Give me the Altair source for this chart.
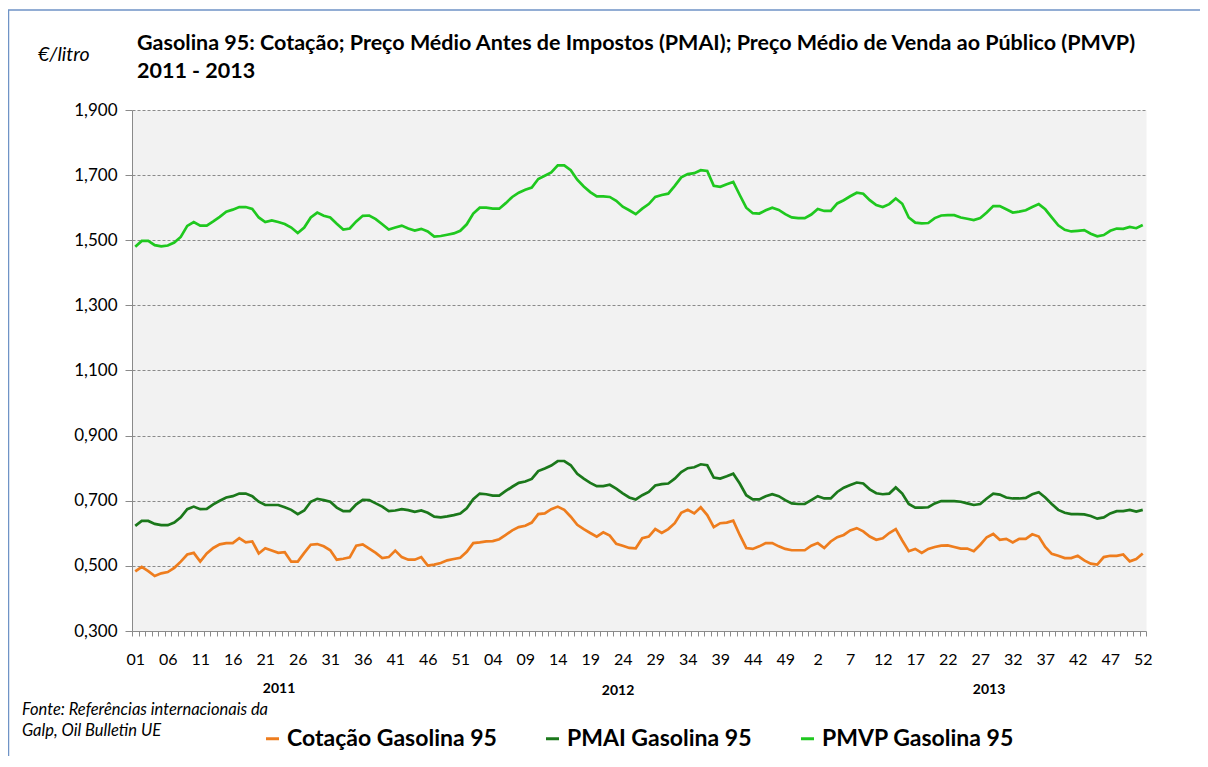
import altair as alt
import pandas as pd

# ---------------- data ----------------
week_labels = ["01", "06", "11", "16", "21", "26", "31", "36", "41", "46", "51",
               "04", "09", "14", "19", "24", "29", "34", "39", "44", "49",
               "2", "7", "12", "17", "22", "27", "32", "37", "42", "47", "52"]
year_labels = ["2011", "2012", "2013"]

cotacao = [
    0.483, 0.497, 0.484, 0.469, 0.477, 0.481, 0.494, 0.513, 0.535, 0.540,
    0.513, 0.538, 0.555, 0.566, 0.570, 0.570, 0.585, 0.572, 0.575, 0.538,
    0.554, 0.547, 0.540, 0.542, 0.513, 0.513, 0.540, 0.565, 0.567, 0.560,
    0.548, 0.519, 0.522, 0.526, 0.562, 0.566, 0.553, 0.540, 0.524, 0.527,
    0.547, 0.527, 0.519, 0.519, 0.527, 0.501, 0.504, 0.509, 0.517, 0.521,
    0.525, 0.543, 0.570, 0.572, 0.575, 0.576, 0.582, 0.595, 0.609, 0.619,
    0.623, 0.633, 0.659, 0.661, 0.674, 0.682, 0.672, 0.651, 0.626, 0.613,
    0.601, 0.590, 0.603, 0.593, 0.568, 0.562, 0.555, 0.554, 0.585, 0.590,
    0.613, 0.601, 0.613, 0.631, 0.663, 0.672, 0.661, 0.680, 0.656, 0.619,
    0.631, 0.633, 0.639, 0.595, 0.555, 0.552, 0.560, 0.570, 0.570, 0.560,
    0.552, 0.548, 0.548, 0.548, 0.562, 0.570, 0.555, 0.575, 0.588, 0.595,
    0.609, 0.616, 0.606, 0.590, 0.580, 0.585, 0.601, 0.613, 0.578, 0.545,
    0.552, 0.540, 0.552, 0.558, 0.562, 0.563, 0.558, 0.553, 0.553, 0.545,
    0.565, 0.588, 0.598, 0.580, 0.583, 0.572, 0.583, 0.583, 0.597, 0.590,
    0.558, 0.537, 0.531, 0.524, 0.524, 0.531, 0.517, 0.507, 0.504, 0.527,
    0.531, 0.531, 0.535, 0.514, 0.521, 0.538,
]

pmai = [
    0.623, 0.638, 0.638, 0.629, 0.625, 0.625, 0.633, 0.649, 0.674, 0.682,
    0.674, 0.675, 0.689, 0.700, 0.710, 0.714, 0.722, 0.722, 0.714, 0.697,
    0.687, 0.687, 0.687, 0.680, 0.672, 0.659, 0.670, 0.697, 0.706, 0.702,
    0.697, 0.679, 0.668, 0.668, 0.689, 0.703, 0.702, 0.692, 0.682, 0.668,
    0.670, 0.674, 0.671, 0.666, 0.670, 0.663, 0.651, 0.649, 0.652, 0.656,
    0.661, 0.677, 0.705, 0.722, 0.720, 0.716, 0.716, 0.730, 0.743, 0.755,
    0.759, 0.767, 0.791, 0.799, 0.808, 0.822, 0.822, 0.809, 0.783, 0.768,
    0.755, 0.745, 0.745, 0.749, 0.737, 0.723, 0.710, 0.704, 0.717, 0.727,
    0.747, 0.751, 0.753, 0.768, 0.788, 0.800, 0.803, 0.812, 0.809, 0.771,
    0.768, 0.775, 0.783, 0.753, 0.717, 0.704, 0.704, 0.714, 0.720, 0.714,
    0.702, 0.692, 0.690, 0.690, 0.702, 0.714, 0.707, 0.707, 0.727, 0.740,
    0.748, 0.756, 0.753, 0.735, 0.723, 0.720, 0.722, 0.741, 0.722, 0.690,
    0.679, 0.679, 0.680, 0.692, 0.699, 0.699, 0.699, 0.697, 0.692, 0.687,
    0.690, 0.707, 0.722, 0.719, 0.710, 0.707, 0.707, 0.709, 0.720, 0.726,
    0.710, 0.690, 0.672, 0.663, 0.659, 0.659, 0.658, 0.653, 0.645, 0.649,
    0.661, 0.668, 0.668, 0.672, 0.667, 0.672,
]

pmvp = [
    1.480, 1.498, 1.498, 1.485, 1.481, 1.484, 1.493, 1.510, 1.544, 1.556,
    1.545, 1.545, 1.558, 1.572, 1.588, 1.594, 1.602, 1.602, 1.596, 1.570,
    1.556, 1.561, 1.556, 1.550, 1.539, 1.522, 1.539, 1.570, 1.585, 1.575,
    1.570, 1.551, 1.533, 1.536, 1.558, 1.575, 1.576, 1.565, 1.549, 1.533,
    1.539, 1.545, 1.536, 1.530, 1.535, 1.527, 1.511, 1.513, 1.517, 1.521,
    1.529, 1.549, 1.582, 1.600, 1.600, 1.597, 1.597, 1.614, 1.633, 1.646,
    1.655, 1.662, 1.688, 1.698, 1.708, 1.730, 1.730, 1.715, 1.686, 1.665,
    1.648, 1.635, 1.635, 1.633, 1.621, 1.603, 1.592, 1.580, 1.597, 1.611,
    1.633, 1.639, 1.643, 1.667, 1.693, 1.703, 1.706, 1.715, 1.713, 1.667,
    1.664, 1.672, 1.679, 1.639, 1.600, 1.583, 1.582, 1.592, 1.600, 1.593,
    1.580, 1.570, 1.568, 1.568, 1.579, 1.596, 1.590, 1.590, 1.613, 1.623,
    1.635, 1.646, 1.643, 1.623, 1.608, 1.602, 1.611, 1.628, 1.612, 1.570,
    1.554, 1.552, 1.553, 1.568, 1.576, 1.577, 1.577, 1.570, 1.566, 1.562,
    1.568, 1.585, 1.605, 1.605, 1.595, 1.585, 1.588, 1.592, 1.602, 1.611,
    1.595, 1.570, 1.546, 1.532, 1.527, 1.529, 1.531, 1.520, 1.512, 1.516,
    1.529, 1.536, 1.535, 1.541, 1.537, 1.547,
]

series_names = ["Cotação Gasolina 95", "PMAI Gasolina 95", "PMVP Gasolina 95"]
series_colors = ["#EE7D1E", "#1B781B", "#1FC81F"]
y_ticks = [0.3, 0.5, 0.7, 0.9, 1.1, 1.3, 1.5, 1.7, 1.9]

# ---------------- table ----------------
n = len(pmvp)
rows = []
for name, vals in zip(series_names, [cotacao, pmai, pmvp]):
    for i, v in enumerate(vals):
        rows.append({"idx": i, "serie": name, "valor": v})
df = pd.DataFrame(rows)
one = pd.DataFrame([{"k": 1}])

W, H = 1014, 521
FONT = "Lato"
GRID = "#8a8a8a"

xscale = alt.Scale(domain=[-0.5, n - 0.5], nice=False, zero=False)
yscale = alt.Scale(domain=[0.3, 1.9], nice=False, zero=False)

label_js = "[" + ",".join("'%s'" % l for l in week_labels) + "][round(datum.value / 5)]"

lines = alt.Chart(df).mark_line(strokeWidth=2.7).encode(
    x=alt.X("idx:Q", scale=xscale,
            axis=alt.Axis(orient="bottom", values=list(range(0, n, 5)), labelExpr=label_js,
                          ticks=False, grid=False, domain=True, domainColor=GRID,
                          labelFont=FONT, labelFontSize=16, labelColor="#000000",
                          labelPadding=20, labelOverlap=False, labelFlush=False, title=None)),
    y=alt.Y("valor:Q", scale=yscale,
            axis=alt.Axis(orient="left", values=y_ticks,
                          labelExpr="replace(format(datum.value, '.3f'), '.', ',')",
                          grid=True, gridDash=[3, 2], gridColor=GRID, gridWidth=1,
                          ticks=True, tickSize=7, tickColor=GRID, domainColor=GRID,
                          labelFont=FONT, labelFontSize=17, labelColor="#000000",
                          labelPadding=8, title=None)),
    color=alt.Color("serie:N", scale=alt.Scale(domain=series_names, range=series_colors),
                    legend=alt.Legend(orient="none", legendX=129, legendY=617,
                                      direction="horizontal", title=None,
                                      labelFont=FONT, labelFontSize=23, labelFontWeight="bold",
                                      labelColor="#000000", labelLimit=400, symbolType="stroke",
                                      symbolStrokeWidth=3, symbolSize=170,
                                      columnPadding=42, labelOffset=3)),
)

ticks_layer = alt.Chart(df).mark_line(strokeOpacity=0).encode(
    x=alt.X("idx:Q", scale=xscale,
            axis=alt.Axis(orient="bottom", values=[i - 0.5 for i in range(n + 1)],
                          labels=False, ticks=True, tickSize=5, tickColor=GRID,
                          domain=False, grid=False, title=None)),
    y=alt.Y("valor:Q", scale=yscale, axis=None),
    detail="serie:N",
)

border = alt.Chart(one).mark_rect(fillOpacity=0, stroke="#6F93C6", strokeWidth=1.5).encode(
    x=alt.value(-123.5), x2=alt.value(1100), y=alt.value(-100), y2=alt.value(700))


def txt(s, x, y, size, weight="normal", style="normal", align="left"):
    return alt.Chart(one).mark_text(text=s, align=align, baseline="middle", font=FONT,
                                    fontSize=size, fontWeight=weight, fontStyle=style,
                                    color="#000000").encode(x=alt.value(x), y=alt.value(y))


texts = [
    txt("€/litro", -94, -55, 19.5, style="italic"),
    txt("Gasolina 95: Cotação; Preço  Médio Antes de Impostos (PMAI); Preço Médio de Venda ao Público (PMVP)",
        5, -66, 21.5, weight="bold"),
    txt("2011  -  2013", 5, -38, 21.5, weight="bold"),
    txt(year_labels[0], 147, 579, 14, weight="bold", align="center"),
    txt(year_labels[1], 486, 581, 14, weight="bold", align="center"),
    txt(year_labels[2], 857, 580, 14, weight="bold", align="center"),
    txt("Fonte: Referências internacionais da", -110, 600, 16.5, style="italic"),
    txt("Galp, Oil Bulletin UE", -110, 621, 16.5, style="italic"),
]

chart = alt.layer(border, lines, ticks_layer, *texts).resolve_axis(
    x="independent", y="independent"
).properties(
    width=W, height=H,
    padding={"left": 124, "top": 102, "right": 54, "bottom": 125},
    autosize=alt.AutoSizeParams(type="none"),
    background="#FFFFFF",
).configure_view(fill="#F2F2F2", strokeOpacity=0)

chart.save("out.html", embed_options={"renderer": "svg", "actions": False})
